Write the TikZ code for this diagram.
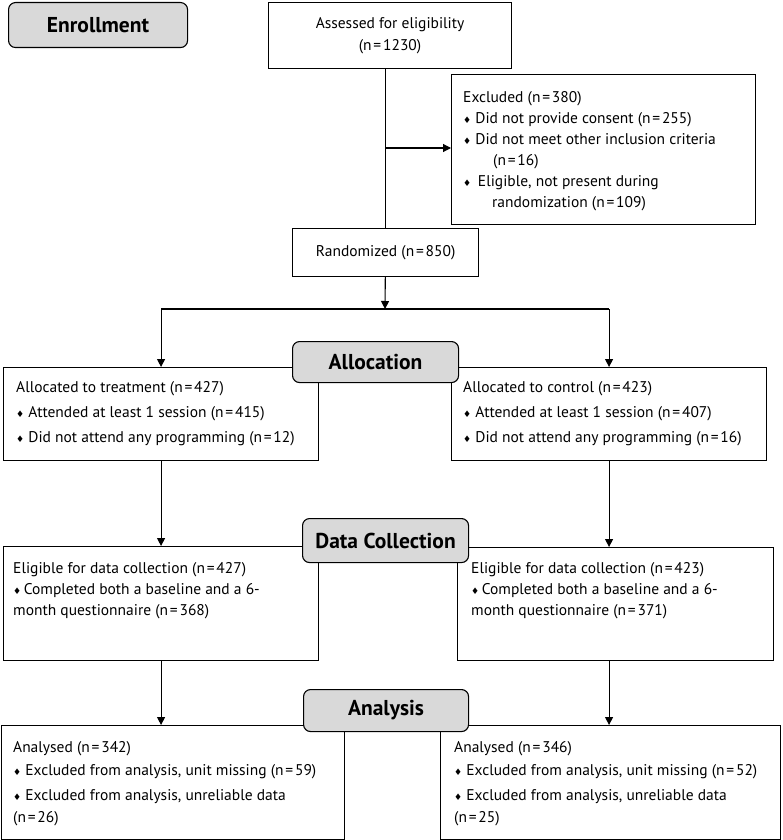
\documentclass[tikz,border=0pt]{standalone}
\usepackage{fontspec}
\setmainfont{PT Sans}
\newfontfamily\symfont{DejaVu Sans}
\usetikzlibrary{arrows.meta}
\newcommand{\dia}{{\symfont\fontsize{9}{9}\selectfont ♦}}
\newcommand{\nn}[1]{(n\kern1.8pt=\kern1.8pt#1)}

\begin{document}
\begin{tikzpicture}[x=1pt,y=-1pt,
    box/.style={draw, line width=1.1pt, anchor=north west, inner sep=0pt, font=\fontsize{15.5}{22}\selectfont},
    phase/.style={draw, line width=1.1pt, fill=gray!30, rounded corners=7pt, anchor=north west, inner sep=0pt, font=\fontsize{21.5}{24}\selectfont\bfseries},
    txt/.style={anchor=north west, inner sep=0pt, align=left, font=\fontsize{15.5}{21}\selectfont},
    link/.style={line width=1.1pt},
    arr/.style={line width=1.1pt, -{Triangle[length=8pt,width=8pt]}}]
    \useasboundingbox (0,0) rectangle (782,840);

    \node[phase, minimum width=179pt, minimum height=45pt] (enrol) at (8,2) {Enrollment};
    \node[box, minimum width=243pt, minimum height=66pt, align=center] (assess) at (268,2) {Assessed for eligibility\\\nn{1230}};
    \node[box, minimum width=304pt, minimum height=150pt] (excl) at (451,74) {};
    \node[txt] (excltxt) at (463,91) {Excluded \nn{380}\\
        \dia\ Did not provide consent \nn{255}\\
        \dia\ Did not meet other inclusion criteria\\
        \hspace*{30pt}\nn{16}\\
        \dia\ \,Eligible, not present during\\
        \hspace*{29pt}randomization \nn{109}};
    \node[box, minimum width=186pt, minimum height=48pt] (rand) at (292,228) {Randomized \nn{850}};

    \node[box, minimum width=315pt, minimum height=93pt] (treat) at (3,367) {};
    \node[txt] (treattxt) at (16,381) {Allocated to treatment \nn{427}\\[4pt]
        \dia\ Attended at least 1 session \nn{415}\\[4pt]
        \dia\ Did not attend any programming \nn{12}};
    \node[box, minimum width=315pt, minimum height=93pt] (ctrl) at (451,367) {};
    \node[txt] (ctrltxt) at (463,381) {Allocated to control \nn{423}\\[4pt]
        \dia\ Attended at least 1 session \nn{407}\\[4pt]
        \dia\ Did not attend any programming \nn{16}};

    \node[box, minimum width=315pt, minimum height=114pt] (eligL) at (3,546) {};
    \node[txt] (eligLtxt) at (13,562) {Eligible for data collection \nn{427}\\
        \dia\,Completed both a baseline and a 6-\\
        month questionnaire \nn{368}};
    \node[box, minimum width=316pt, minimum height=113pt] (eligR) at (457,547) {};
    \node[txt] (eligRtxt) at (471,562) {Eligible for data collection \nn{423}\\
        \dia\,Completed both a baseline and a 6-\\
        month questionnaire \nn{371}};

    \node[box, minimum width=343pt, minimum height=114pt] (analL) at (1,725) {};
    \node[txt] (analLtxt) at (13,741) {Analysed \nn{342}\\[2pt]
        \dia\ Excluded from analysis, unit missing \nn{59}\\[4pt]
        \dia\ Excluded from analysis, unreliable data\\[1pt]
        \nn{26}};
    \node[box, minimum width=340pt, minimum height=114pt] (analR) at (440,725) {};
    \node[txt] (analRtxt) at (454,741) {Analysed \nn{346}\\[2pt]
        \dia\ Excluded from analysis, unit missing \nn{52}\\[4pt]
        \dia\ Excluded from analysis, unreliable data\\[1pt]
        \nn{25}};

    \coordinate (split) at (385,148);
    \coordinate (fork) at (385,309);
    \draw[link] (rand.north |- assess.south) -- (rand.north);
    \draw[arr] (split) -- (split -| excl.west);
    \draw[arr] (rand) -- (fork);
    \draw[link] (fork -| treat.north) -- (fork -| ctrl.north);
    \draw[arr] (fork -| treat.north) -- (treat.north);
    \draw[arr] (fork -| ctrl.north) -- (ctrl.north);
    \draw[arr] (treat) -- (eligL);
    \draw[arr] (ctrl.south) -- (ctrl.south |- eligR.north);
    \draw[arr] (eligL.south) -- (eligL.south |- analL.north);
    \draw[arr] (eligR.south -| ctrl.south) -- (analR.north -| ctrl.south);

    \node[phase, minimum width=166pt, minimum height=41pt] (alloc) at (292,341) {Allocation};
    \node[phase, minimum width=166pt, minimum height=44pt] (dcoll) at (302,518) {Data Collection};
    \node[phase, minimum width=165pt, minimum height=42pt] (anal) at (303,689) {Analysis};
\end{tikzpicture}
\end{document}
